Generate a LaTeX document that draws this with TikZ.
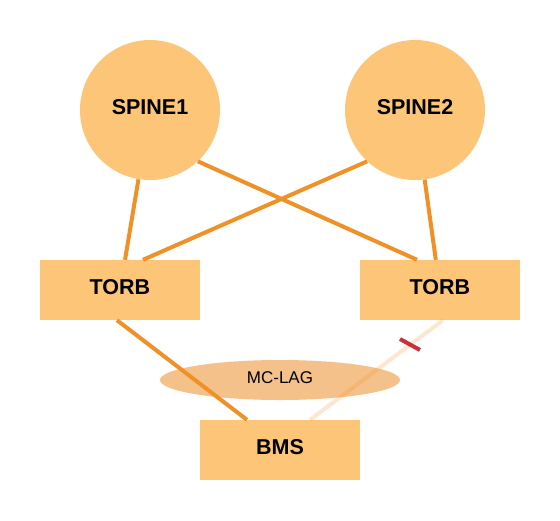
\documentclass[tikz,border=0pt]{standalone}
\usepackage{fontspec}
\setmainfont{Liberation Sans}
\usetikzlibrary{shapes.geometric}
\definecolor{nodefill}{HTML}{FDC578}
\definecolor{linkorange}{HTML}{F09128}
\definecolor{lagfill}{HTML}{F5C18A}
\definecolor{cutred}{HTML}{C8303A}

\begin{document}
\begin{tikzpicture}[x=1pt, y=-1pt,
  spine/.style={circle, fill=nodefill, minimum size=140pt, inner sep=0pt,
                text depth=7pt, font=\fontsize{21.5}{24}\selectfont\bfseries},
  tor/.style={rectangle, fill=nodefill, minimum width=160pt, minimum height=60pt,
              inner sep=0pt, text depth=7pt, font=\fontsize{21.5}{24}\selectfont\bfseries},
  link/.style={draw=linkorange, line width=4pt},
  downlink/.style={link, draw opacity=0.22},
  cutmark/.style={draw=cutred, line width=4pt}]
  \useasboundingbox (0,0) rectangle (560,520);

  \node[spine] (S1) at (150,110) {SPINE1};
  \node[spine] (S2) at (415,110) {SPINE2};
  \node[tor] (TL) at (120,290) {TORB};
  \node[tor] (TR) at (440,290) {TORB};
  \node[tor] (BMS) at (280,450) {BMS};

  % mc-lag bundle under the server links
  \node[ellipse, fill=lagfill, minimum width=240pt, minimum height=40pt,
        inner sep=0pt, text depth=5pt, font=\fontsize{17}{20}\selectfont] (LAG) at (280,380) {MC-LAG};

  \draw[link] (S1) -- (TL);
  \draw[link] (S1.-47) -- ([xshift=-23pt]TR.north);
  \draw[link] (S2.-133) -- ([xshift=23pt]TL.north);
  \draw[link] (S2) -- (TR);

  \draw[link] ([xshift=-3pt]TL.south) -- ([xshift=-33pt]BMS.north);
  \draw[downlink] ([xshift=3pt]TR.south) -- ([xshift=30pt]BMS.north);
  \draw[cutmark] (400,339) -- (420,350);
\end{tikzpicture}
\end{document}
